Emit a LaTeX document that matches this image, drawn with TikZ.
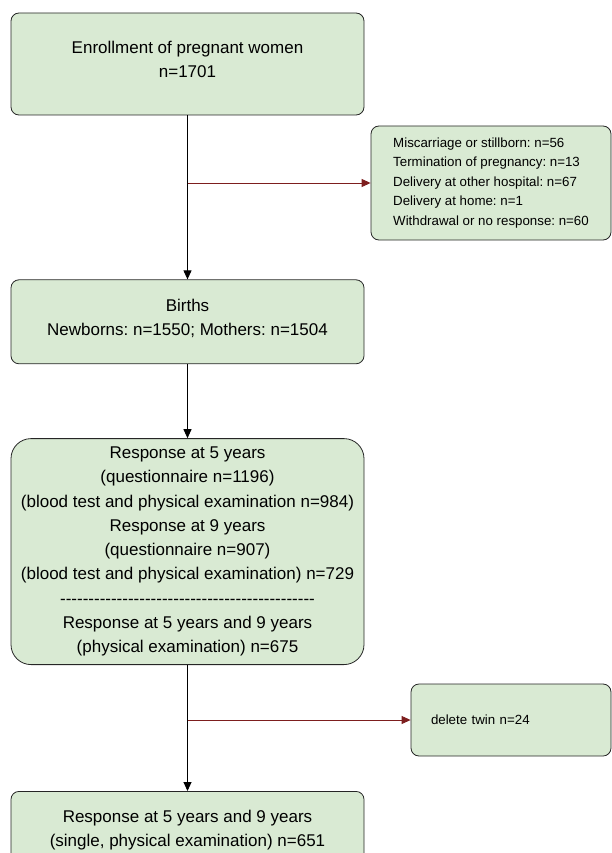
\documentclass[tikz,border=0pt]{standalone}
\usepackage{fontspec}
\setmainfont{Liberation Sans}
\usepackage{tikz}
\usetikzlibrary{positioning,arrows.meta}
\definecolor{boxgreen}{RGB}{217,234,211}
\definecolor{exitred}{RGB}{125,30,30}
\newcommand{\dashrow}{\foreach \i in {1,...,45}{-}}
\frenchspacing

\begin{document}
\begin{tikzpicture}[x=1pt,y=-1pt,
box/.style={draw=black!85,fill=boxgreen,rounded corners=8pt,line width=0.8pt,
    minimum width=353pt,align=center,font=\fontsize{17}{24.3}\selectfont},
exitbox/.style={draw=black!85,fill=boxgreen,rounded corners=8pt,line width=0.8pt,
    align=left,font=\fontsize{13.3}{19.5}\selectfont},
flow/.style={-{Triangle[length=9pt,width=8pt]},line width=0.9pt},
exit/.style={-{Triangle[length=9pt,width=8pt]},line width=0.9pt,draw=exitred}]
\useasboundingbox (0,0) rectangle (612,853);

\node (enroll) [box,minimum height=102pt,text depth=9pt] at (187.5,64)
    {Enrollment of pregnant women\\ n=1701};
\node (births) [box,minimum height=84pt,text depth=9pt,below=164pt of enroll]
    {Births\\ Newborns: n=1550; Mothers: n=1504};
\node (resp) [box,minimum height=226pt,rounded corners=20pt,below=74pt of births]
    {Response at 5 years\\
     (questionnaire n=1196)\\
     (blood test and physical examination n=984)\\
     Response at 9 years\\
     (questionnaire n=907)\\
     (blood test and physical examination) n=729\\
     \dashrow\\
     Response at 5 years and 9 years\\
     (physical examination) n=675};
\node (single) [box,minimum height=78pt,below=126pt of resp]
    {Response at 5 years and 9 years\\ (single, physical examination) n=651};

\node (loss) [exitbox,minimum width=240pt,minimum height=114pt] at (491,183)
    {Miscarriage or stillborn: n=56\\
     Termination of pregnancy: n=13\\
     Delivery at other hospital: n=67\\
     Delivery at home: n=1\\
     Withdrawal or no response: n=60};
\node (twin) [exitbox,minimum width=200pt,minimum height=72pt,text width=160pt] at (511,720)
    {delete twin n=24};

\coordinate (split1) at (enroll.south |- loss.west);
\coordinate (split2) at (resp.south |- twin.west);

\draw [flow] (enroll) -- (births);
\draw [flow] (births) -- (resp);
\draw [flow] (resp) -- (single);
\draw [exit] (split1) -- (loss);
\draw [exit] (split2) -- (twin);
\end{tikzpicture}
\end{document}
